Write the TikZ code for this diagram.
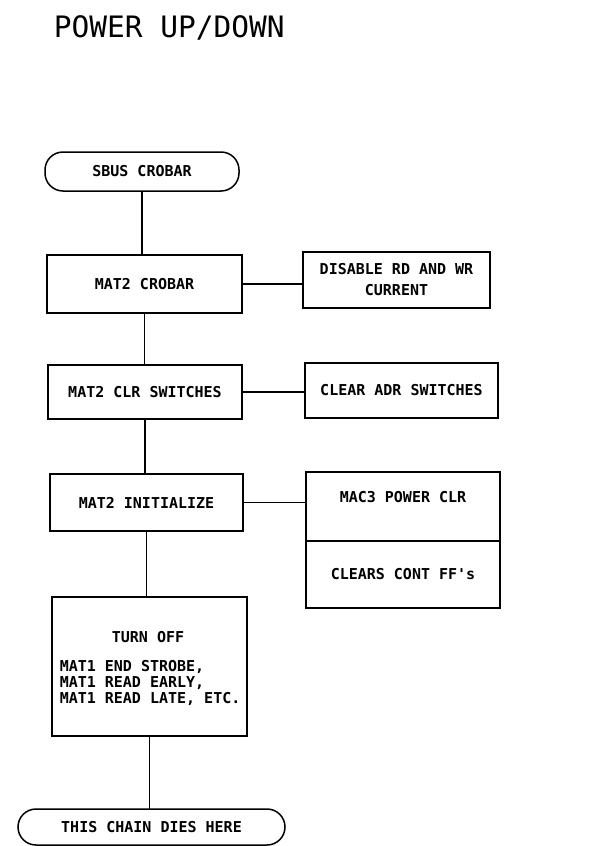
\documentclass[tikz,border=0pt]{standalone}
\usepackage{fontspec}
\setmonofont{DejaVu Sans Mono}
\usetikzlibrary{positioning}

\begin{document}
\begin{tikzpicture}[x=1pt,y=-1pt,line width=1.5pt,
  box/.style={draw,rectangle,minimum width=194pt,inner sep=0pt,outer sep=0pt,align=center,
    font=\ttfamily\bfseries\fontsize{15}{21}\selectfont},
  term/.style={box,rounded corners=18pt},
  plain/.style={inner sep=0pt,font=\ttfamily\bfseries\fontsize{15}{16}\selectfont}]
\useasboundingbox (0,0) rectangle (589,846);
\node[anchor=west,inner sep=0pt,font=\ttfamily\fontsize{29.5}{30}\selectfont] (title) at (53,28) {POWER UP/DOWN};
\node[term,minimum height=39pt] (start) at (142,171.5) {SBUS CROBAR};
\node[box,minimum width=195pt,minimum height=58pt] (crobar) at (144.5,284) {MAT2 CROBAR};
\node[box,minimum width=187pt,minimum height=56pt] (disable) at (396.5,280) {DISABLE RD AND WR\\CURRENT};
\node[box,minimum height=54pt] (clrsw) at (145,392) {MAT2 CLR SWITCHES};
\node[box,minimum width=193pt,minimum height=55pt] (clearadr) at (401.5,390.5) {CLEAR ADR SWITCHES};
\node[box,minimum width=193pt,minimum height=57pt] (init) at (146.5,502.5) {MAT2 INITIALIZE};
\node[box,text height=30.5pt,text depth=38.5pt] (mac3) at (403,472) [anchor=north] {MAC3 POWER CLR};
\node[box,minimum height=67pt,below=0pt of mac3] (ffclr) {CLEARS CONT FF's};
\node[box,minimum width=195pt,minimum height=139pt] (turnoff) at (149.5,666.5) {};
\node[plain] (offhead) at (148,637) {TURN OFF};
\node[plain,anchor=west,align=left] (offlist) at (59,683) {MAT1 END STROBE,\\MAT1 READ EARLY,\\MAT1 READ LATE, ETC.};
\node[term,minimum width=267pt,minimum height=36pt] (finish) at (151.5,827) {THIS CHAIN DIES HERE};
\foreach \a/\b in {start/crobar,crobar/clrsw,clrsw/init,init/turnoff,turnoff/finish}
  \draw (\a) -- (\a |- \b.north);
\foreach \a/\b in {crobar/disable,clrsw/clearadr,init/mac3}
  \draw (\a.east) -- (\a.east -| \b.west);
\end{tikzpicture}
\end{document}
